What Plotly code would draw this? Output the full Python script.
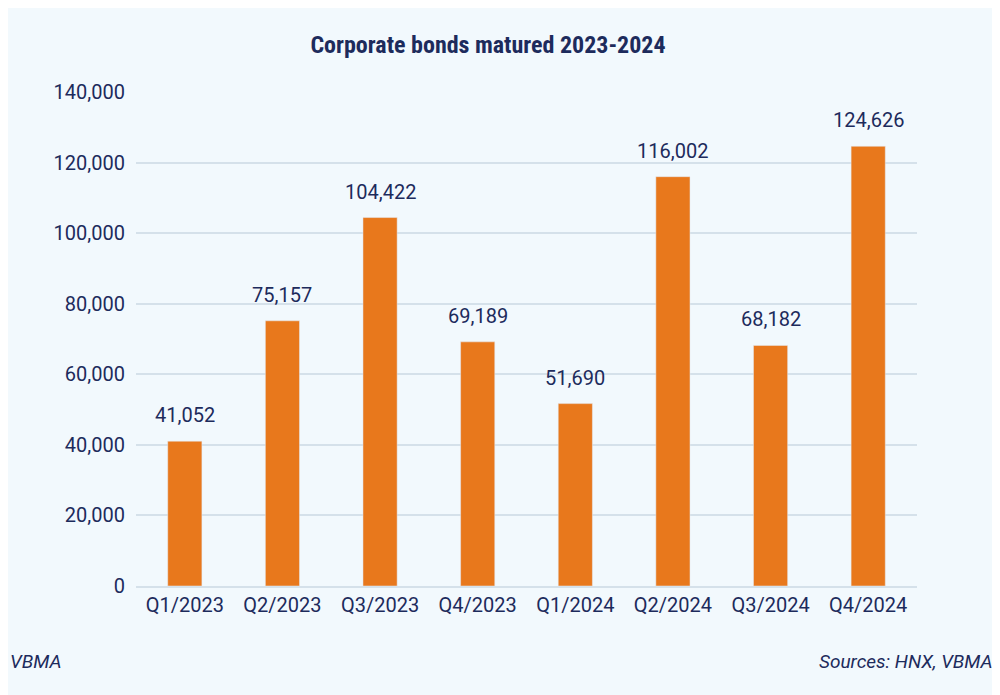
import plotly.graph_objects as go

quarters = ['Q1/2023', 'Q2/2023', 'Q3/2023', 'Q4/2023', 'Q1/2024', 'Q2/2024', 'Q3/2024', 'Q4/2024']
matured = [41052, 75157, 104422, 69189, 51690, 116002, 68182, 124626]
y_ticks = [0, 20000, 40000, 60000, 80000, 100000, 120000, 140000]

NAVY = '#1d2b5c'
BG = '#f2f9fd'

fig = go.Figure()
fig.add_trace(go.Bar(x=quarters, y=matured,
                     marker=dict(color='#e8781c'),
                     width=0.35))

# value labels sit a bit higher above the bars than plotly's outside text
for q, v in zip(quarters, matured):
    fig.add_annotation(x=q, y=v, text=f'{v:,}', showarrow=False, yanchor='bottom',
                       yshift=12, font=dict(size=20, color=NAVY))

fig.update_layout(
    width=1000, height=695,
    paper_bgcolor=BG, plot_bgcolor=BG,
    margin=dict(l=128, r=91, t=84, b=117),
    font=dict(family='Roboto', color=NAVY),
    title=dict(text='<b>Corporate bonds matured 2023-2024</b>', x=0.48, y=0.96,
               xanchor='center', font=dict(size=24, color=NAVY, family='Roboto Condensed, Roboto')),
    showlegend=False,
)
fig.update_yaxes(range=[0, 140000], tickvals=y_ticks,
                 ticktext=[f'{v:,}' for v in y_ticks],
                 tickfont=dict(size=20, color=NAVY),
                 gridcolor='#d5e1ea', gridwidth=1.5, zeroline=False, ticks='', ticklabelstandoff=10)
fig.update_xaxes(tickfont=dict(size=20, color=NAVY), showline=True,
                 linecolor='#d5e1ea', linewidth=1.5, ticks='')

fig.add_annotation(text='<i>VBMA</i>', xref='paper', yref='paper', x=-0.164, y=-0.18,
                   xanchor='left', showarrow=False, font=dict(size=19, color=NAVY))
fig.add_annotation(text='<i>Sources: HNX, VBMA</i>', xref='paper', yref='paper', x=1.1, y=-0.18,
                   xanchor='right', showarrow=False, font=dict(size=19, color=NAVY))

fig.write_html('out.html')
